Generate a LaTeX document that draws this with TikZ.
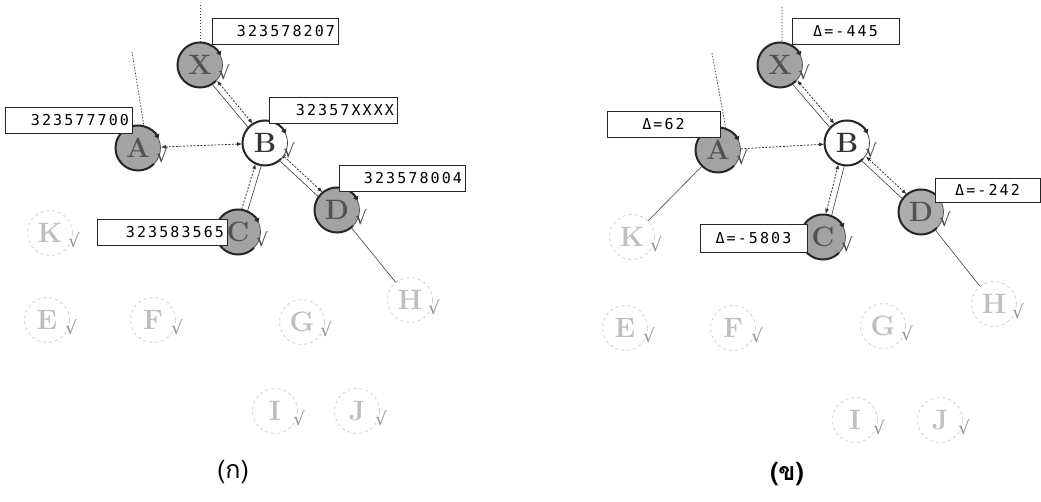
\documentclass[tikz,border=0pt]{standalone}
\usepackage{fontspec}
\usetikzlibrary{arrows.meta,calc}
\newfontfamily\segfont[LetterSpace=14]{DejaVu Sans Mono}
\newfontfamily\dejavu{DejaVu Sans}
\newfontfamily\thaifont[Script=Thai]{Loma}
\tikzset{
 base/.style={circle,minimum size=45pt,inner sep=0pt,font=\fontsize{28}{28}\selectfont\bfseries},
 actn/.style={base,fill=black!36,draw=black!70,line width=0.7pt,text=black!68},
 bnode/.style={base,fill=white,draw=black!80,line width=0.7pt,text=black!80},
 inact/.style={base,draw=black!18,dashed,line width=0.8pt,text=black!25},
 arcact/.style={line width=2pt,black!85,-{Triangle[length=4pt,width=5.5pt]}},
 chkact/.style={font=\dejavu\fontsize{18}{18}\selectfont,inner sep=0pt,text=black!72},
 chkin/.style={chkact,text=black!42},
 lbl/.style={draw=black!85,line width=0.7pt,fill=white,rectangle,minimum height=26pt,inner ysep=0pt,font=\segfont\fontsize{15}{15}\selectfont},
 lblL/.style={lbl,align=right,inner xsep=3pt,text width=#1},
 lblR/.style={lbl,inner xsep=0pt,minimum width=#1},
 solidc/.style={line width=0.6pt,black!75},
 dashc/.style={line width=0.8pt,black!80,dash pattern=on 2pt off 1.5pt},
 guide/.style={line width=0.7pt,black!75,dash pattern=on 1.5pt off 1.5pt},
 tt/.style={{Latex[length=5pt,width=4pt]}-{Latex[length=5pt,width=4pt]}},
 ot/.style={-{Latex[length=5pt,width=4pt]}},
 bt/.style={{Bar[width=5pt]}-{Latex[length=5pt,width=4pt]}},
 capt/.style={font=\thaifont\fontsize{25}{25}\selectfont,inner sep=0pt}
}
\newcommand\nodearc[1]{\draw[arcact] ($(#1)+(45:22.5)$) arc[start angle=45,end angle=335,radius=22.5];}
\newcommand\chkA[1]{\node[chkact] (#1chk) at ($(#1)+(24,7)$) {√};}
\newcommand\chkI[1]{\node[chkin] (#1chk) at ($(#1)+(24,7)$) {√};}
\begin{document}
\begin{tikzpicture}[x=1pt,y=-1pt]
\useasboundingbox[fill=white] (0,0) rectangle (1041,502);

% ---------------- left panel ----------------
\node[actn] (X) at (200,65) {X};
\node[actn] (A) at (138,148) {A};
\node[bnode] (B) at (265,143) {B};
\node[actn] (D) at (337,210) {D};
\node[actn] (C) at (238,232) {C};
\node[inact] (K) at (50,233) {K};
\node[inact] (E) at (47,320) {E};
\node[inact] (F) at (153,320) {F};
\node[inact] (G) at (302,322) {G};
\node[inact] (H) at (410,300) {H};
\node[inact] (I) at (275,411) {I};
\node[inact] (J) at (357,411) {J};
\foreach \n in {X,A,B,D,C}{\nodearc{\n}\chkA{\n}}
\foreach \n in {K,E,F,G,H,I,J}{\chkI{\n}}

\coordinate (xtop) at (200,5);
\coordinate (atop) at (132,52);
\draw[guide] (xtop) -- (X.north);
\draw[guide] (atop) -- (A.75);

\draw[solidc,transform canvas={shift={(-2.3,1.9)}}] (X) -- (B);
\draw[dashc,tt,transform canvas={shift={(2.3,-1.9)}}] (X) -- (B);
\draw[dashc,tt] (A) -- (B);
\draw[solidc,transform canvas={shift={(-2,2.2)}}] (B) -- (D);
\draw[dashc,bt,transform canvas={shift={(2.2,-2.2)}}] (B) -- (D);
\draw[solidc,transform canvas={shift={(2.9,0.9)}}] (C) -- (B);
\draw[dashc,ot,transform canvas={shift={(-2.9,-0.9)}}] (C) -- (B);
\draw[solidc] (D) -- (H);

\node[lblL=120pt] (lx) at (275,31.5) {323578207};
\node[lblL=122pt] (lb) at (333,110.5) {32357XXXX};
\node[lblL=121pt] (la) at (68.5,120) {323577700};
\node[lblL=120pt] (ld) at (402,178) {323578004};
\node[lblL=124pt] (lc) at (162,232.5) {323583565};

\node[capt] (capa) at (233,472) {(ก)};

% ---------------- right panel ----------------
\node[actn] (X2) at (780,65) {X};
\node[actn] (A2) at (718,150) {A};
\node[bnode] (B2) at (847,143) {B};
\node[actn,fill=black!32] (D2) at (921,212) {D};
\node[actn] (C2) at (823,237) {C};
\node[inact] (K2) at (632,237) {K};
\node[inact] (E2) at (625,328) {E};
\node[inact] (F2) at (733,328) {F};
\node[inact] (G2) at (883,326) {G};
\node[inact] (H2) at (994,304) {H};
\node[inact] (I2) at (855,420) {I};
\node[inact] (J2) at (940,420) {J};
\foreach \n in {X2,A2,B2,D2,C2}{\nodearc{\n}\chkA{\n}}
\foreach \n in {K2,E2,F2,G2,H2,I2,J2}{\chkI{\n}}

\coordinate (xtop2) at (782,7);
\coordinate (atop2) at (712,53);
\draw[guide] (xtop2) -- (X2.85);
\draw[guide] (atop2) -- (A2.70);

\draw[solidc,transform canvas={shift={(-2.3,1.9)}}] (X2) -- (B2);
\draw[dashc,tt,transform canvas={shift={(2.3,-1.9)}}] (X2) -- (B2);
\draw[dashc,ot] (A2) -- (B2);
\draw[solidc,transform canvas={shift={(-2,2.2)}}] (B2) -- (D2);
\draw[dashc,tt,transform canvas={shift={(2.2,-2.2)}}] (B2) -- (D2);
\draw[solidc,transform canvas={shift={(2.9,0.9)}}] (C2) -- (B2);
\draw[dashc,tt,transform canvas={shift={(-2.9,-0.9)}}] (C2) -- (B2);
\draw[solidc] (D2) -- (H2);
\draw[solidc] (A2) -- (K2);

\node[lblR=107pt] (rx) at (845.5,31.5) {Δ=-445};
\node[lblR=113pt] (ra) at (663.5,124.5) {Δ=62};
\node[lblR=105pt,minimum height=24pt] (rd) at (987.5,190) {Δ=-242};
\node[lblR=107pt,minimum height=28pt] (rc) at (753.5,238) {Δ=-5803};

\node[capt,font=\thaifont\bfseries\fontsize{25}{25}\selectfont] (capb) at (787,474) {(ข)};
\end{tikzpicture}
\end{document}
